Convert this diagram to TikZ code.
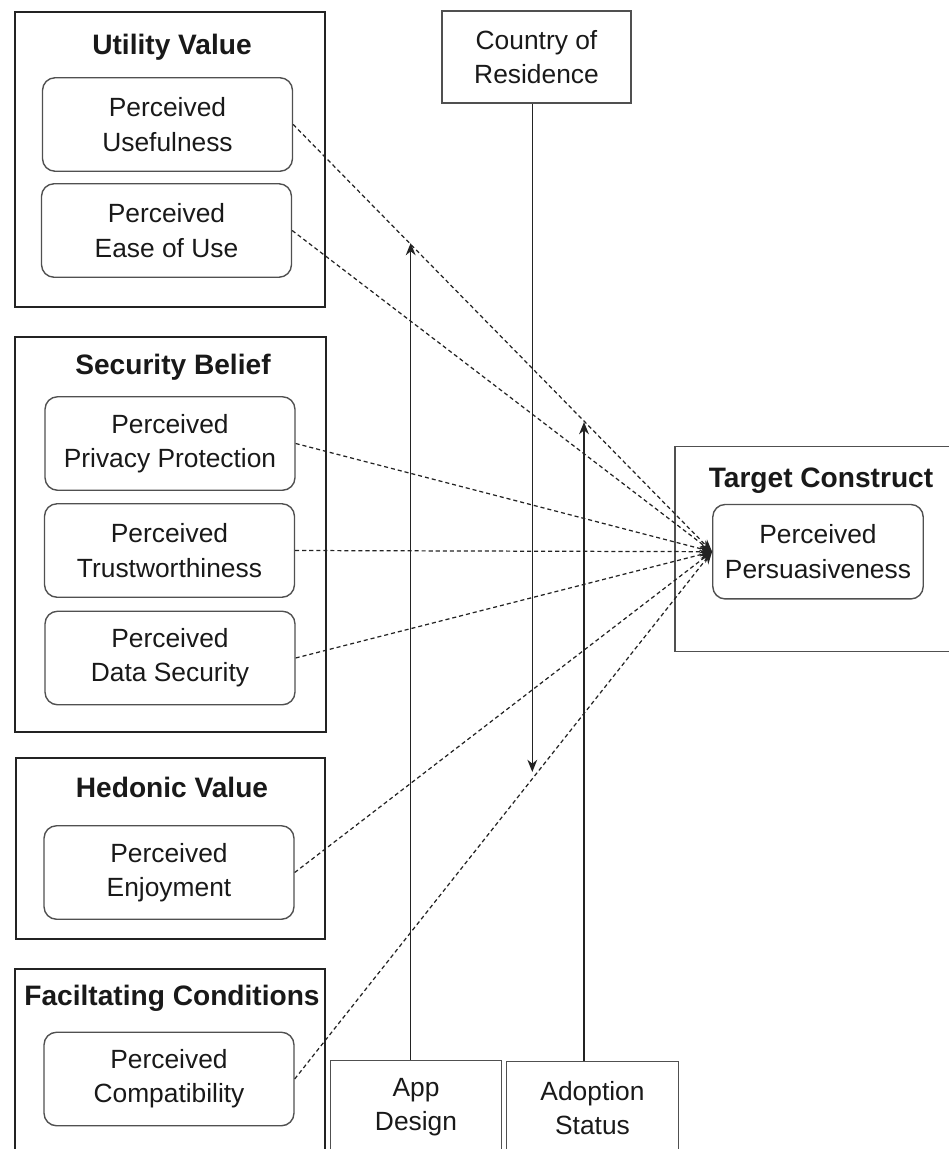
\documentclass[tikz,border=0pt]{standalone}
\usepackage{fontspec}
\setmainfont{Liberation Sans}
\usepackage{tikz}
\usetikzlibrary{
    positioning,
    arrows.meta,
    calc
}
\definecolor{lineDark}{RGB}{35, 35, 35}
\definecolor{lineGray}{RGB}{80, 80, 80}
\definecolor{textDark}{RGB}{25, 25, 25}

\begin{document}
\begin{tikzpicture}[x=0.02cm, y=-0.02cm, >={Stealth[length=7pt, width=5.6pt]},
        groupbox/.style={draw=lineDark, line width=1.6pt, inner sep=0pt},
        framebox/.style={draw=lineGray, line width=0.8pt, align=center, text=textDark,
            font=\fontsize{15}{19.5}\selectfont},
        itembox/.style={framebox, rounded corners=0.25cm, minimum width=5cm, minimum height=1.87cm},
        titletext/.style={anchor=base, text=textDark, font=\fontsize{16}{19}\selectfont\bfseries},
        linkline/.style={->, lineDark, line width=0.7pt, dash pattern=on 2.3pt off 1.7pt},
        modline/.style={->, lineDark, line width=0.85pt}]
        \useasboundingbox (0,0) rectangle (949,1149);
        \clip (0,0) rectangle (949,1149);

        % Construct groups
        \node[groupbox, minimum width=6.2cm, minimum height=5.9cm] (uv) at (170,159.5) {};
        \node[titletext] (uvTitle) at (172,55) {Utility Value};
        \node[itembox] (pu) at (167.5,124.5) {Perceived\\Usefulness};
        \node[itembox] (peou) at (166.5,230.5) {Perceived\\Ease of Use};

        \node[groupbox, minimum width=6.22cm, minimum height=7.9cm] (sb) at (170.5,534.5) {};
        \node[titletext] (sbTitle) at (173,374) {Security Belief};
        \node[itembox] (ppp) at (170,443.5) {Perceived\\Privacy Protection};
        \node[itembox] (pt) at (169.5,550.5) {Perceived\\Trustworthiness};
        \node[itembox] (pds) at (170,658) {Perceived\\Data Security};

        \node[groupbox, minimum width=6.18cm, minimum height=3.62cm] (hv) at (170.5,848.5) {};
        \node[titletext] (hvTitle) at (172,797) {Hedonic Value};
        \node[itembox] (pe) at (169,872.5) {Perceived\\Enjoyment};

        \node[groupbox, minimum width=6.2cm, minimum height=3.66cm] (fc) at (170,1060.5) {};
        \node[titletext] (fcTitle) at (172,1005) {Faciltating Conditions};
        \node[itembox] (pc) at (169,1079) {Perceived\\Compatibility};

        % Target construct
        \node[framebox, minimum width=5.84cm, minimum height=4.11cm] (tc) at (821,549) {};
        \node[titletext] (tcTitle) at (821,487) {Target Construct};
        \node[itembox, minimum width=4.21cm, minimum height=1.89cm] (pp) at (818,551.7) {Perceived\\Persuasiveness};

        % Moderators
        \node[framebox, minimum width=3.78cm, minimum height=1.84cm] (cor) at (536.5,57) {Country of\\Residence};
        \node[framebox, minimum width=3.43cm, minimum height=1.85cm] (ad) at (416,1107) {App\\Design};
        \node[framebox, minimum width=3.43cm, minimum height=1.85cm] (as) at (592.5,1108) {Adoption\\Status};

        % Paths to the target
        \draw[linkline] (pu.east) -- (pp.west);
        \draw[linkline] (peou.east) -- (pp.west);
        \draw[linkline] (ppp.east) -- (pp.west);
        \draw[linkline] (pt.east) -- (pp.west);
        \draw[linkline] (pds.east) -- (pp.west);
        \draw[linkline] (pe.east) -- (pp.west);
        \draw[linkline] (pc.east) -- (pp.west);

        % Moderator arrows
        \coordinate (adTip) at (410.7,243);
        \coordinate (asTip) at (584,422);
        \coordinate (corTip) at (532.3,772);
        \draw[modline] (ad.north -| adTip) -- (adTip);
        \draw[modline] (as.north -| asTip) -- (asTip);
        \draw[modline] (cor.south -| corTip) -- (corTip);
    \end{tikzpicture}
\end{document}
